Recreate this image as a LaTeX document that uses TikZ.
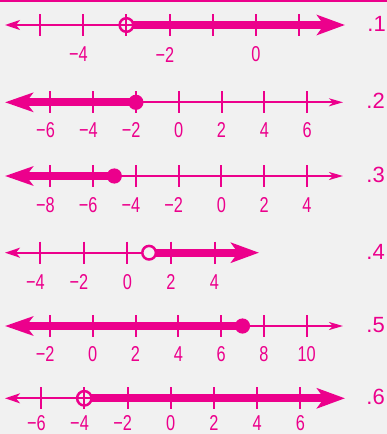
\documentclass[tikz,border=0pt]{standalone}
\usepackage{fontspec}
\setmainfont{Liberation Sans}
\newfontfamily\tickfont[FakeStretch=0.76]{Liberation Sans}
\usetikzlibrary{arrows.meta}
\definecolor{pk}{HTML}{EC008C}
\definecolor{bgc}{HTML}{F1F1F1}
\newcommand\mneg[1]{\llap{−}#1}
\tikzset{
  thinln/.style={pk, line width=2pt},
  thickln/.style={pk, line width=8pt},
  tickmark/.style={pk, line width=2pt},
  thinleft/.style={thinln, arrows={Stealth[length=15pt,width=10pt,inset=4pt]-}},
  thinright/.style={thinln, arrows={-Stealth[length=14pt,width=8pt,inset=4pt]}},
  thickleft/.style={thickln, arrows={Stealth[length=28pt,width=19pt,inset=7pt]-}},
  thickright/.style={thickln, arrows={-Stealth[length=28pt,width=20pt,inset=7pt]}},
  ticklbl/.style={pk, inner sep=0pt, font=\tickfont\fontsize{21.5}{21.5}\selectfont},
  rowlbl/.style={pk, inner sep=0pt, anchor=east, font=\fontsize{22}{22}\selectfont},
  opencirc/.style={pk, line width=2.5pt},
  fulldot/.style={pk, fill=pk},
}
\begin{document}
\begin{tikzpicture}[x=1pt, y=-1pt]
\useasboundingbox (0,0) rectangle (387,434);
\fill[bgc] (0,0) rectangle (387,434);
\fill[pk] (0,0) rectangle (387,2.3);

% ---------- Row 1 ----------
\begin{scope}[shift={(0,25)}]
  \coordinate (l1) at (5,0);
  \coordinate (c1) at (126.4,0);
  \coordinate (r1) at (345,0);
  \draw[thinleft] (l1) -- ([xshift=7pt]c1);
  \draw[thickright] ([xshift=7pt]c1) -- (r1);
  \foreach \v in {-5,...,1} \draw[tickmark] (256+43.2*\v,-11) -- (256+43.2*\v,11);
  \draw[opencirc] (c1) circle[radius=6.8pt];
  \foreach \v/\t in {-4/\mneg4,-2/\mneg2,0/0} \node[ticklbl] (t1\v) at (256+43.2*\v,29.5) {\t};
  \node[rowlbl] (n1) at (386,-1) {.1};
\end{scope}

% ---------- Row 2 ----------
\begin{scope}[shift={(0,102.3)}]
  \coordinate (l2) at (5,0);
  \coordinate (c2) at (135.9,0);
  \coordinate (r2) at (343,0);
  \draw[thinright] (c2) -- (r2);
  \draw[thickleft] (l2) -- (c2);
  \foreach \v in {-6,-4,...,6} \draw[tickmark] (178.7+21.4*\v,-11) -- (178.7+21.4*\v,11);
  \fill[fulldot] (c2) circle[radius=7.6pt];
  \foreach \v/\t in {-6/\mneg6,-4/\mneg4,-2/\mneg2,0/0,2/2,4/4,6/6} \node[ticklbl] (t2\v) at (178.7+21.4*\v,28) {\t};
  \node[rowlbl] (n2) at (385,-1) {.2};
\end{scope}

% ---------- Row 3 ----------
\begin{scope}[shift={(0,176)}]
  \coordinate (l3) at (5,0);
  \coordinate (c3) at (114.3,0);
  \coordinate (r3) at (343,0);
  \draw[thinright] (c3) -- (r3);
  \draw[thickleft] (l3) -- (c3);
  \foreach \v in {-8,-6,...,4} \draw[tickmark] (221.3+21.4*\v,-11) -- (221.3+21.4*\v,11);
  \fill[fulldot] (c3) circle[radius=7.6pt];
  \foreach \v/\t in {-8/\mneg8,-6/\mneg6,-4/\mneg4,-2/\mneg2,0/0,2/2,4/4} \node[ticklbl] (t3\v) at (221.3+21.4*\v,29) {\t};
  \node[rowlbl] (n3) at (385,-1) {.3};
\end{scope}

% ---------- Row 4 ----------
\begin{scope}[shift={(0,252.7)}]
  \coordinate (l4) at (5,0);
  \coordinate (c4) at (149.1,0);
  \coordinate (r4) at (259,0);
  \draw[thinleft] (l4) -- (c4);
  \draw[thickright] ([xshift=7pt]c4) -- (r4);
  \foreach \v in {-4,-2,...,4} \draw[tickmark] (127.3+21.8*\v,-11) -- (127.3+21.8*\v,11);
  \draw[opencirc, fill=bgc] (c4) circle[radius=6.8pt];
  \foreach \v/\t in {-4/\mneg4,-2/\mneg2,0/0,2/2,4/4} \node[ticklbl] (t4\v) at (127.3+21.8*\v,29) {\t};
  \node[rowlbl] (n4) at (385,-1) {.4};
\end{scope}

% ---------- Row 5 ----------
\begin{scope}[shift={(0,326)}]
  \coordinate (l5) at (5,0);
  \coordinate (c5) at (242.5,0);
  \coordinate (r5) at (343,0);
  \draw[thinright] (c5) -- (r5);
  \draw[thickleft] (l5) -- (c5);
  \foreach \v in {-2,0,...,10} \draw[tickmark] (92.7+21.4*\v,-11) -- (92.7+21.4*\v,11);
  \fill[fulldot] (c5) circle[radius=7.6pt];
  \foreach \v/\t in {-2/\mneg2,0/0,2/2,4/4,6/6,8/8,10/10} \node[ticklbl] (t5\v) at (92.7+21.4*\v,28) {\t};
  \node[rowlbl] (n5) at (385,-1) {.5};
\end{scope}

% ---------- Row 6 ----------
\begin{scope}[shift={(0,398.3)}]
  \coordinate (l6) at (5,0);
  \coordinate (c6) at (84.3,0);
  \coordinate (r6) at (345,0);
  \draw[thinleft] (l6) -- ([xshift=7pt]c6);
  \draw[thickright] ([xshift=7pt]c6) -- (r6);
  \foreach \v in {-6,-4,...,6} \draw[tickmark] (170.7+21.6*\v,-11) -- (170.7+21.6*\v,11);
  \draw[opencirc] (c6) circle[radius=7.2pt];
  \foreach \v/\t in {-6/\mneg6,-4/\mneg4,-2/\mneg2,0/0,2/2,4/4,6/6} \node[ticklbl] (t6\v) at (170.7+21.6*\v,25) {\t};
  \node[rowlbl] (n6) at (385,-1) {.6};
\end{scope}
\end{tikzpicture}
\end{document}
